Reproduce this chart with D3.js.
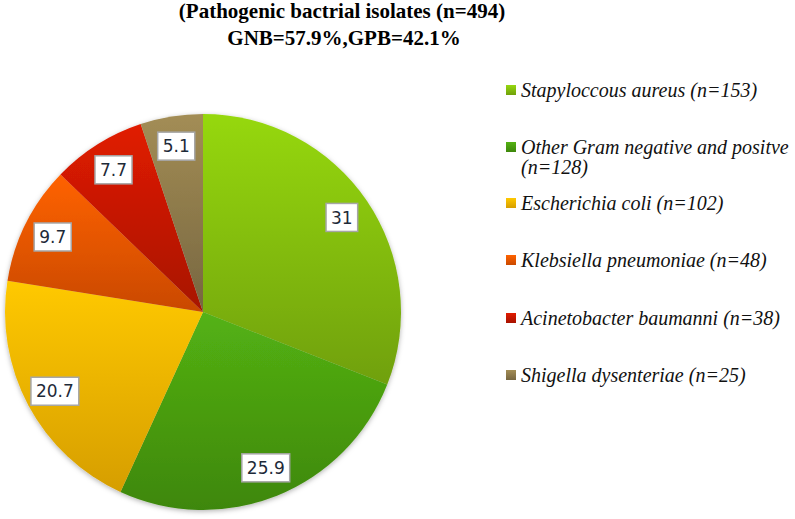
<!DOCTYPE html>
<html>
<head>
<meta charset="utf-8">
<script src="https://cdn.jsdelivr.net/npm/d3@7/dist/d3.min.js"></script>
<style>
  body { margin: 0; background: #fff; }
  .serif { font-family: "Liberation Serif", "Times New Roman", Times, serif; }
  .legend-text { font-family: "Liberation Serif", "DejaVu Serif", serif; }
</style>
</head>
<body>
<script>
// data
var categories = [
  "Stapyloccous aureus (n=153)",
  "Other Gram negative and positve\n(n=128)",
  "Escherichia coli (n=102)",
  "Klebsiella pneumoniae (n=48)",
  "Acinetobacter baumanni (n=38)",
  "Shigella dysenteriae (n=25)"
];
var percents = [31, 25.9, 20.7, 9.7, 7.7, 5.1];
var topColors = ["#96d80f", "#54b213", "#ffc900", "#ff6200", "#e11c00", "#a38d55"];
var bottomColors = ["#70a00a", "#3e870c", "#d69e00", "#c94900", "#a71200", "#776640"];
var titleLines = ["(Pathogenic bactrial isolates (n=494)", "GNB=57.9%,GPB=42.1%"];

var svgWidth = 795, svgHeight = 519;
var cx = 203, cy = 312, radius = 198;

var svg = d3.select("body").append("svg")
  .attr("width", svgWidth)
  .attr("height", svgHeight);

var defs = svg.append("defs");

// one vertical gradient per slice
percents.forEach(function(p, i) {
  var g = defs.append("linearGradient")
    .attr("id", "grad" + i)
    .attr("x1", 0).attr("y1", 0).attr("x2", 0).attr("y2", 1);
  g.append("stop").attr("offset", "0%").attr("stop-color", topColors[i]);
  g.append("stop").attr("offset", "100%").attr("stop-color", bottomColors[i]);
});

defs.append("filter").attr("id", "shadow")
  .attr("x", "-10%").attr("y", "-10%").attr("width", "120%").attr("height", "120%")
  .append("feDropShadow")
  .attr("dx", 0).attr("dy", 1.5).attr("stdDeviation", 2.5)
  .attr("flood-color", "#000").attr("flood-opacity", 0.3);

// title
svg.append("text")
  .attr("class", "serif")
  .attr("x", 342).attr("y", 18)
  .attr("text-anchor", "middle")
  .style("font-weight", "bold")
  .style("font-size", "21px")
  .text(titleLines[0]);

svg.append("text")
  .attr("class", "serif")
  .attr("x", 344).attr("y", 45)
  .attr("text-anchor", "middle")
  .style("font-weight", "bold")
  .style("font-size", "21px")
  .text(titleLines[1]);

// pie
var pie = d3.pie().sort(null).value(d => d);
var arcs = pie(percents);
var arc = d3.arc().innerRadius(0).outerRadius(radius);
var labelArc = d3.arc().innerRadius(168).outerRadius(168);

var pieGroup = svg.append("g")
  .attr("transform", `translate(${cx}, ${cy})`);

pieGroup.append("g")
  .attr("filter", "url(#shadow)")
  .selectAll("path")
  .data(arcs)
  .enter()
  .append("path")
  .attr("d", arc)
  .attr("fill", (d, i) => "url(#grad" + i + ")");

// value labels in boxes
var labels = pieGroup.append("g")
  .selectAll("g")
  .data(arcs)
  .enter()
  .append("g")
  .attr("transform", d => `translate(${labelArc.centroid(d)})`);

labels.append("text")
  .attr("text-anchor", "middle")
  .attr("dy", "0.36em")
  .attr("font-family", "DejaVu Sans, sans-serif")
  .attr("font-size", "17px")
  .attr("fill", "#1e2a38")
  .text(d => d.data);

labels.each(function() {
  var g = d3.select(this);
  var bb = g.select("text").node().getBBox();
  g.insert("rect", "text")
    .attr("x", bb.x - 5)
    .attr("y", -14)
    .attr("width", bb.width + 10)
    .attr("height", 28)
    .attr("fill", "#fff")
    .attr("stroke", "#a6a6a6")
    .attr("stroke-width", 1.5);
});

// legend
var legendRows = [90, 147, 203, 260, 318, 375];
var legend = svg.append("g")
  .selectAll("g")
  .data(categories)
  .enter()
  .append("g")
  .attr("transform", (d, i) => `translate(506, ${legendRows[i]})`);

legend.append("rect")
  .attr("x", 0).attr("y", -5)
  .attr("width", 10).attr("height", 10)
  .attr("fill", (d, i) => "url(#grad" + i + ")");

legend.append("text")
  .attr("class", "legend-text")
  .style("font-style", "italic")
  .style("font-size", "20px")
  .attr("fill", "#111")
  .each(function(d) {
    var t = d3.select(this);
    d.split("\n").forEach(function(line, k) {
      t.append("tspan")
        .attr("x", 15)
        .attr("dy", k === 0 ? "0.33em" : "1em")
        .text(line);
    });
  });
</script>
</body>
</html>
